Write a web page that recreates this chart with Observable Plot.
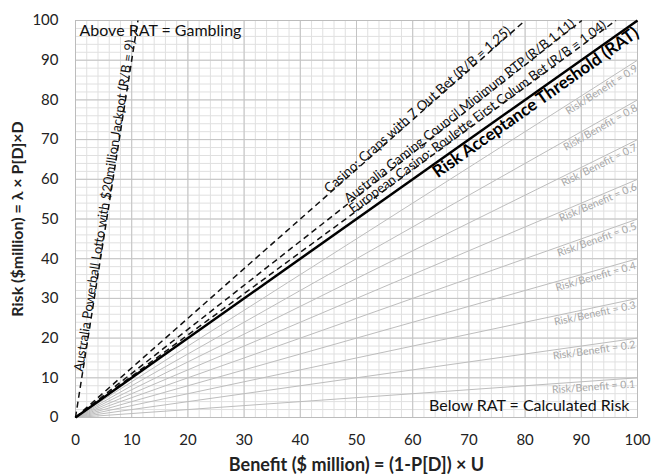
<!DOCTYPE html>
<html>
<head>
<meta charset="utf-8">
<script src="https://cdn.jsdelivr.net/npm/d3@7"></script>
<script src="https://cdn.jsdelivr.net/npm/@observablehq/plot@0.6"></script>
<style>
  html, body { margin: 0; padding: 0; background: #fff; }
  #chart svg { display: block; }
</style>
</head>
<body>
<div id="chart"></div>
<script>
// ---- data ----
const majorTicks = [0, 10, 20, 30, 40, 50, 60, 70, 80, 90, 100];
const minorTicks = [0, 2, 4, 6, 8, 10, 12, 14, 16, 18, 20, 22, 24, 26, 28, 30, 32, 34, 36, 38, 40,
  42, 44, 46, 48, 50, 52, 54, 56, 58, 60, 62, 64, 66, 68, 70, 72, 74, 76, 78, 80,
  82, 84, 86, 88, 90, 92, 94, 96, 98, 100];
const fanRatios = [0.1, 0.2, 0.3, 0.4, 0.5, 0.6, 0.7, 0.8, 0.9];
const gambleNames = [
  "Australia Powerball Lotto with $20million Jackpot (R/B = 9)",
  "Casino: Craps with 7 Out Bet (R/B = 1.25)",
  "Australia Gaming Council Minimum RTP (R/B 1.11)",
  "European Casino: Roulette First Colum Bet (R/B = 1.04)"
];
const gambleRatios = [9, 1.25, 1.11, 1.04];
const ratRatio = [1];
const ratLabel = "Risk Acceptance Threshold (RAT)";
const aboveText = "Above RAT = Gambling";
const belowText = "Below RAT = Calculated Risk";
const xTitle = "Benefit ($ million) = (1-P[D]) × U";
const yTitle = "Risk ($million) = λ × P[D]×D";

// ---- layout ----
const W = 652, H = 475;
const mL = 75, mR = 15, mT = 20, mB = 58;
const pxX = (W - mL - mR) / 100, pxY = (H - mT - mB) / 100;
const angle = (k) => -Math.atan(k * pxY / pxX) * 180 / Math.PI;
const endX = (k) => Math.min(100, 100 / k);
const endY = (k) => Math.min(100, 100 * k);
// where each gambling label ends along its line (x in data units)
const gambleLabelEndX = [10.55, 77.6, 89.0, 94.6];
const gambleFont = [13, 13.3, 13, 13];

const gambleRows = gambleNames.map((name, i) => ({name, k: gambleRatios[i], xe: gambleLabelEndX[i], fs: gambleFont[i]}));

const font = "Lato, 'Open Sans', sans-serif";

const chart = Plot.plot({
  width: W,
  height: H,
  marginLeft: mL,
  marginRight: mR,
  marginTop: mT,
  marginBottom: mB,
  style: {fontFamily: font, background: "#fff", color: "#222"},
  x: {domain: [0, 100]},
  y: {domain: [0, 100]},
  marks: [
    Plot.gridX(minorTicks, {stroke: "#e0e0e0", strokeOpacity: 1, strokeWidth: 1}),
    Plot.gridY(minorTicks, {stroke: "#e0e0e0", strokeOpacity: 1, strokeWidth: 1}),
    Plot.gridX(majorTicks, {stroke: "#c4c4c4", strokeOpacity: 1, strokeWidth: 1}),
    Plot.gridY(majorTicks, {stroke: "#c4c4c4", strokeOpacity: 1, strokeWidth: 1}),
    Plot.frame({stroke: "#bcbcbc", strokeWidth: 1}),
    // risk/benefit fan
    Plot.link(fanRatios, {x1: () => 0, y1: () => 0, x2: endX, y2: endY, stroke: "#bdbdbd", strokeWidth: 1}),
    Plot.text(fanRatios, {
      x: () => 99.5, y: (k) => 99.5 * k,
      text: (k) => `Risk/Benefit = ${k}`,
      rotate: angle, textAnchor: "end", lineAnchor: "top", dy: 2,
      fill: "#a8a8a8", fontSize: 10.5
    }),
    // gambling lines
    Plot.link(gambleRows, {x1: () => 0, y1: () => 0, x2: (d) => endX(d.k), y2: (d) => endY(d.k),
      stroke: "#111", strokeWidth: 1.5, strokeDasharray: "6,4"}),
    Plot.text(gambleRows, {
      x: "xe", y: (d) => d.xe * d.k, text: "name",
      rotate: (d) => angle(d.k), fontSize: "fs",
      textAnchor: "end", lineAnchor: "bottom", fill: "#111"
    }),
    // RAT
    Plot.link(ratRatio, {x1: () => 0, y1: () => 0, x2: endX, y2: endY, stroke: "#000", strokeWidth: 2.5}),
    Plot.text(ratRatio, {
      x: () => 99.2, y: (k) => 99.2 * k, text: () => ratLabel,
      rotate: angle, textAnchor: "end", lineAnchor: "top", dy: 2,
      fontWeight: "bold", fontSize: 17, fill: "#000"
    }),
    Plot.text([aboveText], {frameAnchor: "top-left", dx: 4, dy: 4, fontSize: 16, fill: "#111"}),
    Plot.text([belowText], {frameAnchor: "bottom-right", dx: -8, dy: -7, fontSize: 16, fill: "#111"}),
    // axes
    Plot.axisX(majorTicks, {tickSize: 0, tickPadding: 17, fontSize: 15, label: null, fill: "#222"}),
    Plot.axisY(majorTicks, {tickSize: 0, tickPadding: 17, fontSize: 15, label: null, fill: "#222"}),
    Plot.text([xTitle], {frameAnchor: "bottom", lineAnchor: "middle", dy: 48, fontSize: 18, fontWeight: "bold", fill: "#222"}),
    Plot.text([yTitle], {frameAnchor: "left", textAnchor: "middle", lineAnchor: "middle", rotate: -90, dx: -58, fontSize: 16, fontWeight: "bold", fill: "#222"})
  ]
});
document.getElementById("chart").append(chart);
</script>
</body>
</html>
